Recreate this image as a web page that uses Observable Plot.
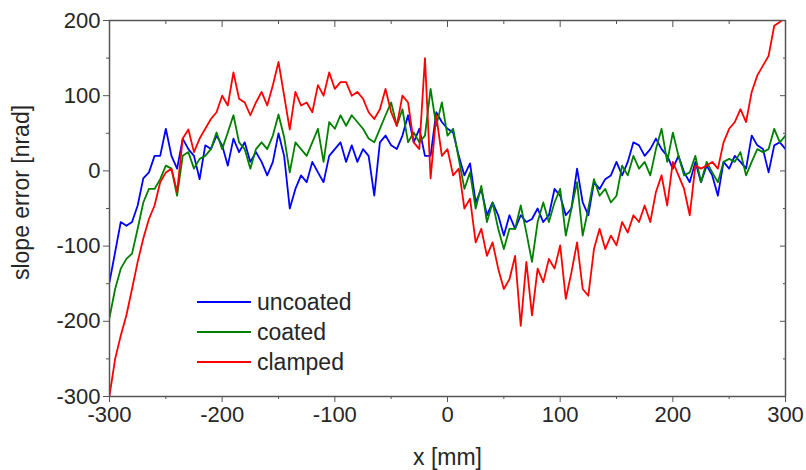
<!DOCTYPE html>
<html><head><meta charset="utf-8">
<script src="https://cdn.jsdelivr.net/npm/d3@7"></script>
<script src="https://cdn.jsdelivr.net/npm/@observablehq/plot@0.6"></script>
<style>body{margin:0;background:#fff} #chart{width:806px;height:470px}</style>
</head><body><div id="chart"></div>
<script>
const xPositions = d3.range(-300, 301, 5);
const uncoated = [
-148,-108,-68,-73,-68,-46,-10,-2,20,20,56,20,3,43,29,20,-11,34,29,47,34,7,43,25,38,12,25,12,-6,12,
50,20,-50,-24,-6,-15,12,-2,-15,20,29,38,12,34,12,29,20,-33,38,47,34,29,47,74,38,56,20,20,78,65,
56,51,20,-6,10,-42,-24,-59,-42,-59,-86,-59,-77,-59,-68,-64,-50,-68,-59,-24,-33,-59,-50,3,-42,-59,-15,-24,-11,-6,
12,-6,12,38,34,20,29,43,29,20,3,20,-2,-15,12,-15,7,-6,-33,12,3,20,12,3,47,34,29,-2,34,38,29];
const coated = [
-195,-157,-130,-117,-110,-77,-42,-24,-24,-11,7,3,-33,20,25,3,16,20,29,51,29,51,74,38,29,3,29,38,29,47,
75,45,-2,38,29,20,38,56,12,65,56,74,60,74,65,56,43,38,56,74,91,60,82,38,51,38,47,109,60,91,
47,56,16,-24,-2,-50,-20,-68,-42,-77,-104,-77,-77,-46,-82,-121,-68,-42,-68,-42,-24,-86,-50,-15,-86,-50,-11,-33,-24,-42,
-33,7,-6,20,3,12,-6,29,56,12,51,20,-6,-2,20,-15,12,-2,-15,12,16,12,25,-6,12,29,25,29,56,38,47];
const clamped = [
-299,-250,-219,-192,-157,-121,-90,-64,-46,-15,-2,3,-28,43,55,25,43,56,69,78,100,87,131,96,91,74,91,105,87,114,
145,100,55,105,87,91,78,114,100,131,109,118,118,100,105,96,78,69,82,109,78,60,100,91,38,29,150,-10,74,20,
29,-6,3,-50,-37,-95,-77,-113,-95,-130,-157,-144,-113,-206,-121,-192,-130,-148,-117,-130,-99,-170,-135,-95,-157,-166,-104,-77,-104,-86,
-99,-68,-82,-59,-68,-46,-68,-28,-6,-46,12,-6,-24,-59,7,3,7,12,3,38,56,65,82,65,105,127,140,153,193,198,205];

const seriesNames = ["uncoated", "coated", "clamped"];
const seriesColors = ["#0000ff", "#008000", "#ff0000"];
const xTicks = [-300, -200, -100, 0, 100, 200, 300];
const xMinor = [-250, -150, -50, 50, 150, 250];
const yTicks = [-300, -200, -100, 0, 100, 200];
const yMinor = [-250, -150, -50, 50, 150];
const xLabel = "x [mm]";
const yLabel = "slope error [nrad]";

const rows = [];
[uncoated, coated, clamped].forEach((arr, i) =>
  arr.forEach((v, j) => rows.push({x: xPositions[j], y: v, s: seriesNames[i]})));

const axisColor = "#555";
const textColor = "#262626";
const fmt = d => String(d);
const blank = () => "";

const chart = Plot.plot({
  width: 806, height: 470,
  marginLeft: 109, marginRight: 21, marginTop: 20, marginBottom: 74,
  style: {fontFamily: "'Liberation Sans', Arial, sans-serif", fontSize: "22px", color: textColor, background: "#fff"},
  x: {domain: [-300, 300]},
  y: {domain: [-300, 200]},
  color: {domain: seriesNames, range: seriesColors},
  marks: [
    Plot.line(rows, {x: "x", y: "y", z: "s", stroke: "s", strokeWidth: 1.8, clip: true}),
    Plot.frame({stroke: axisColor, strokeWidth: 1.5}),
    Plot.axisX({ticks: xTicks, tickSize: 6, tickPadding: 4, tickFormat: fmt, label: null, stroke: axisColor, fill: textColor, fontSize: 22}),
    Plot.axisX({ticks: xMinor, tickSize: 3, tickFormat: blank, label: null, stroke: axisColor}),
    Plot.axisX({anchor: "top", ticks: xTicks, tickSize: -6, tickFormat: blank, label: null, stroke: axisColor}),
    Plot.axisX({anchor: "top", ticks: xMinor, tickSize: -3, tickFormat: blank, label: null, stroke: axisColor}),
    Plot.axisY({ticks: yTicks, tickSize: 6, tickPadding: 3, tickFormat: fmt, label: null, stroke: axisColor, fill: textColor, fontSize: 22}),
    Plot.axisY({ticks: yMinor, tickSize: 3, tickFormat: blank, label: null, stroke: axisColor}),
    Plot.axisY({anchor: "right", ticks: yTicks, tickSize: -6, tickFormat: blank, label: null, stroke: axisColor}),
    Plot.axisY({anchor: "right", ticks: yMinor, tickSize: -3, tickFormat: blank, label: null, stroke: axisColor}),
    Plot.text([xLabel], {text: d => d, frameAnchor: "bottom", lineAnchor: "middle", textAnchor: "middle", dy: 61, fontSize: 23, fill: textColor}),
    Plot.text([yLabel], {text: d => d, frameAnchor: "left", textAnchor: "middle", lineAnchor: "middle", dx: -88, dy: -16, rotate: -90, fontSize: 23, fill: textColor})
  ]
});

// in-plot legend
const lg = d3.select(chart).append("g")
  .attr("font-family", "'Liberation Sans', Arial, sans-serif")
  .attr("font-size", 23)
  .attr("text-anchor", "start");
const legendTop = 302, legendStep = 30;
seriesNames.forEach((name, i) => {
  const yy = legendTop + i * legendStep;
  lg.append("line").attr("x1", 197).attr("x2", 251).attr("y1", yy).attr("y2", yy)
    .attr("stroke", seriesColors[i]).attr("stroke-width", 1.8);
  lg.append("text").attr("x", 257).attr("y", yy).attr("dy", "0.35em")
    .attr("text-anchor", "start")
    .attr("fill", textColor).text(name);
});

document.getElementById("chart").appendChild(chart);
</script>
</body></html>
